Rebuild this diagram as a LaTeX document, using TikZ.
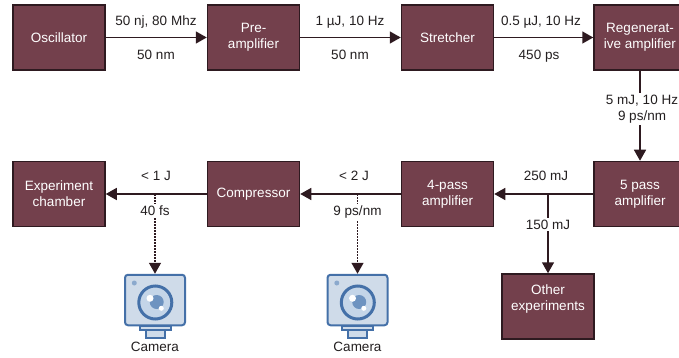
\documentclass[tikz,border=0pt]{standalone}
\usepackage{fontspec}
\setmainfont{Liberation Sans}
\usetikzlibrary{arrows.meta,calc}
\definecolor{boxfill}{HTML}{73404C}
\definecolor{boxline}{HTML}{2E1A20}
\definecolor{camblue}{HTML}{4470A8}
\definecolor{camfill}{HTML}{CFDBE9}
\definecolor{lensmid}{HTML}{C4D5E8}
\definecolor{lensdark}{HTML}{6E93C0}
\definecolor{txt}{HTML}{231F20}
\tikzset{
  x=1pt,y=-1pt,
  stagebox/.style={draw=boxline,fill=boxfill,line width=1.5pt,minimum width=92pt,minimum height=65pt,inner sep=0pt,text=white,align=center,font=\fontsize{13.5}{16}\selectfont},
  conn/.style={draw=boxline,line width=1.5pt,-{Triangle[length=11pt,width=12pt]}},
  dotconn/.style={draw=boxline,line width=1.5pt,dash pattern=on 1.5pt off 1.5pt,-{Triangle[length=11pt,width=12pt]}},
  lbl/.style={text=txt,align=center,inner sep=0pt,anchor=base,font=\fontsize{13.5}{16}\selectfont},
  clbl/.style={lbl,fill=white,inner xsep=1pt,inner ysep=2pt},
  cambody/.style={draw=camblue,fill=camfill,line width=2pt,rounded corners=3pt,minimum width=60pt,minimum height=50.5pt,inner sep=0pt},
  campart/.style={draw=camblue,line width=2pt,fill=camfill},
}
\newcommand{\camdraw}[1]{%
  \draw[campart] ($(#1.south)+(-15.5,0)$) rectangle ($(#1.south)+(15.5,3.5)$);
  \draw[campart] ($(#1.south)+(-9.5,3.5)$) rectangle ($(#1.south)+(9.5,12)$);
  \fill[lensdark!80] ($(#1.center)+(-20.7,-17)$) circle[radius=2.5];
  \draw[draw=camblue,line width=3pt,fill=lensmid] ($(#1.center)+(0.3,2.5)$) circle[radius=16.5];
  \fill[lensdark] ($(#1.center)+(1.7,2)$) circle[radius=7];
  \fill[white] ($(#1.center)+(-5,-1.7)$) circle[radius=3.5];
  \fill[white] ($(#1.center)+(6.3,8.3)$) circle[radius=2.5];
}
\begin{document}
\begin{tikzpicture}
\useasboundingbox (0,0) rectangle (679,358);
\clip (0,0) rectangle (679,358);
\node[stagebox] (osc) at (59,37.5) {\raisebox{-1pt}{Oscillator}};
\node[stagebox] (pre) at (253.5,37.5) {Pre-\\amplifier};
\node[stagebox] (str) at (447.5,37.5) {\raisebox{-1pt}{Stretcher}};
\node[stagebox] (reg) at (640,37.5) {Regenerat-\\ive amplifier};
\node[stagebox] (five) at (640,194) {5 pass\\amplifier};
\node[stagebox] (four) at (447.5,194) {4-pass\\amplifier};
\node[stagebox] (comp) at (253.5,194) {\raisebox{-1pt}{Compressor}};
\node[stagebox] (exp) at (59,194) {Experiment\\chamber};
\node[stagebox] (oth) at (548,306.5) {Other\\experiments\\[2pt]\mbox{}};

\draw[conn] (osc) -- (pre);
\draw[conn] (pre) -- (str);
\draw[conn] (str) -- (reg);
\draw[conn] (reg) -- (five);
\draw[conn] (five) -- (four);
\draw[conn] (four) -- (comp);
\draw[conn] (comp) -- (exp);

\node[lbl] (l1) at (156,25.5) {50 nj, 80 Mhz};
\node[lbl] (l2) at (156,60) {50 nm};
\node[lbl] (l3) at (350,25.5) {1 µJ, 10 Hz};
\node[lbl] (l4) at (350,60) {50 nm};
\node[lbl] (l5) at (541,25.5) {0.5 µJ, 10 Hz};
\node[lbl] (l6) at (539,60) {450 ps};
\node[clbl,anchor=center] (l7) at (642,109) {5 mJ, 10 Hz\\9 ps/nm};
\node[lbl] (l8) at (546,180.5) {250 mJ};
\node[lbl] (l9) at (354,180.5) {< 2 J};
\node[lbl] (l10) at (156,180.5) {< 1 J};

\coordinate (b1) at (155,194);
\coordinate (b2) at (357.5,194);
\coordinate (b3) at (oth.north |- five);

\node[cambody] (cam1) at (155,300) {};
\node[cambody] (cam2) at (357.5,300) {};
\camdraw{cam1}
\camdraw{cam2}
\node[lbl] (c1) at (155,351.5) {Camera};
\node[lbl] (c2) at (357.5,351.5) {Camera};

\draw[conn] (b3) -- (oth.north);
\node[clbl] (l11) at (548,229) {150 mJ};
\draw[dotconn] (b1) -- (cam1.north);
\draw[dotconn] (b2) -- (cam2.north);
\node[clbl] (l12) at (155,215.5) {40 fs};
\node[clbl] (l13) at (357.5,215.5) {9 ps/nm};
\end{tikzpicture}
\end{document}
